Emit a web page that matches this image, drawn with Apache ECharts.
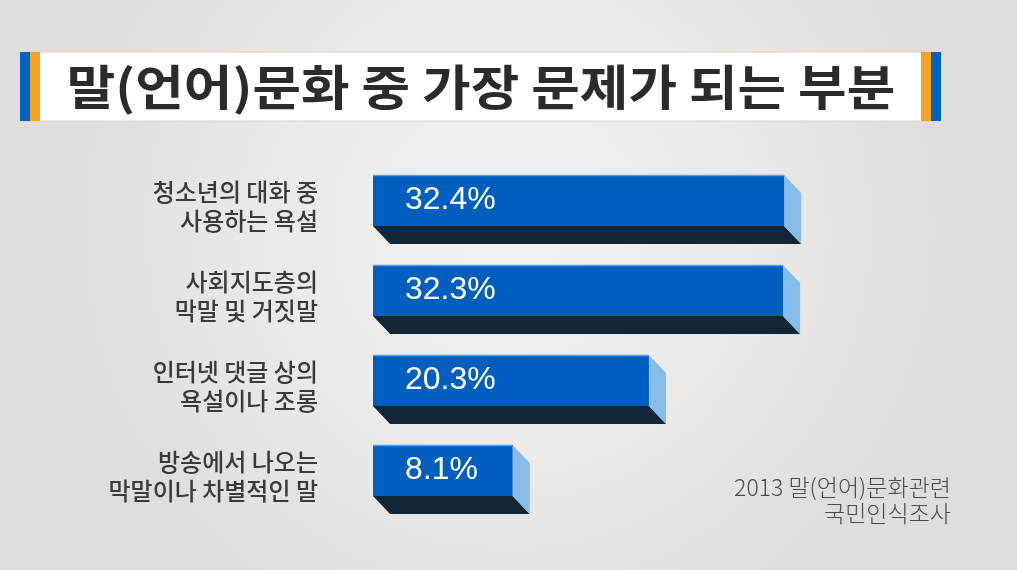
<!DOCTYPE html>
<html><head><meta charset="utf-8">
<script src="https://cdn.jsdelivr.net/npm/echarts@6/dist/echarts.min.js"></script>
<style>html,body{margin:0;padding:0;}#c{width:1017px;height:570px;}</style>
</head><body><div id="c"></div>
<script>
const titleText = '말(언어)문화 중 가장 문제가 되는 부분';
const categories = ['청소년의 대화 중\n사용하는 욕설', '사회지도층의\n막말 및 거짓말', '인터넷 댓글 상의\n욕설이나 조롱', '방송에서 나오는\n막말이나 차별적인 말'];
const values = [32.4, 32.3, 20.3, 8.1];
const sourceText = '2013 말(언어)문화관련\n국민인식조사';
const xMin = -4.4, xMax = 40;

const chart = echarts.init(document.getElementById('c'));
const kr = '"Noto Sans CJK KR", "Noto Sans", sans-serif';
chart.setOption({
  backgroundColor: {type:'radial', x:0.5, y:0.4, r:0.75, colorStops:[{offset:0,color:'#F3F2F1'},{offset:0.55,color:'#ECEAE8'},{offset:1,color:'#E1DDDA'}]},
  animation:false,
  grid:{left:373, top:155.5, width:496, height:360},
  xAxis:{type:'value', min:xMin, max:xMax, show:false},
  yAxis:{type:'category', data:categories, inverse:true,
    axisLine:{show:false}, axisTick:{show:false}, splitLine:{show:false}, axisLabel:{show:false}},
  graphic:[
    {type:'rect', shape:{x:20, y:52, width:921, height:69}, style:{fill:'#FFFFFF', stroke:'#D8D4D0', lineWidth:1}},
    {type:'rect', shape:{x:20, y:52, width:10, height:69}, style:{fill:'#0062C0'}},
    {type:'rect', shape:{x:30, y:52, width:10, height:69}, style:{fill:'#F7A521'}},
    {type:'rect', shape:{x:921, y:52, width:10, height:69}, style:{fill:'#F7A521'}},
    {type:'rect', shape:{x:931, y:52, width:10, height:69}, style:{fill:'#0062C0'}},
    {type:'text', x:481, y:87, scaleX:1.1, style:{text:titleText, fontFamily:kr, fontSize:48, fontWeight:'bold', fill:'#2B2B2B', align:'center', verticalAlign:'middle'}},
    {type:'text', x:951, y:500, style:{text:sourceText, fontFamily:kr, fontSize:23, fontWeight:300, fill:'#4A4A4A', align:'right', verticalAlign:'middle', lineHeight:26}}
  ],
  series:[{
    type:'custom',
    data: values.map((v,i)=>[v,i]),
    encode:{x:0, y:1},
    renderItem:function(params, api){
      const v = api.value(0), i = api.value(1);
      const s = api.coord([xMin, i]), e = api.coord([v, i]);
      const band = api.size([0,1])[1];
      const h = band*0.567, dx = band*0.19, dy = band*0.2;
      const x0 = s[0], x1 = e[0], y0 = s[1]-h/2, y1 = s[1]+h/2;
      return {type:'group', children:[
        {type:'polygon', shape:{points:[[x0,y1],[x1,y1],[x1+dx,y1+dy],[x0+dx,y1+dy]]}, style:{fill:'#12263A'}},
        {type:'polygon', shape:{points:[[x1,y0],[x1+dx,y0+dy],[x1+dx,y1+dy],[x1,y1]]}, style:{fill:'#86BCE8'}},
        {type:'rect', shape:{x:x0, y:y0, width:x1-x0, height:h}, style:{fill:'#005FBE'}},
        {type:'line', shape:{x1:x0, y1:y0+0.5, x2:x1, y2:y0+0.5}, style:{stroke:'#4FA0E6', lineWidth:1.5}},
        {type:'text', x:x0+32, y:s[1], style:{text:v.toFixed(1)+'%', fill:'#FFFFFF', fontFamily:'"Liberation Sans", Arial, sans-serif', fontWeight:'normal', fontSize:32, verticalAlign:'middle', align:'left'}},
        {type:'text', x:x0-55, y:s[1]+6, style:{text:categories[i], fill:'#3A3A3A', fontFamily:kr, fontWeight:500, fontSize:24, lineHeight:29, verticalAlign:'middle', align:'right'}}
      ]};
    }
  }]
});
</script></body></html>
